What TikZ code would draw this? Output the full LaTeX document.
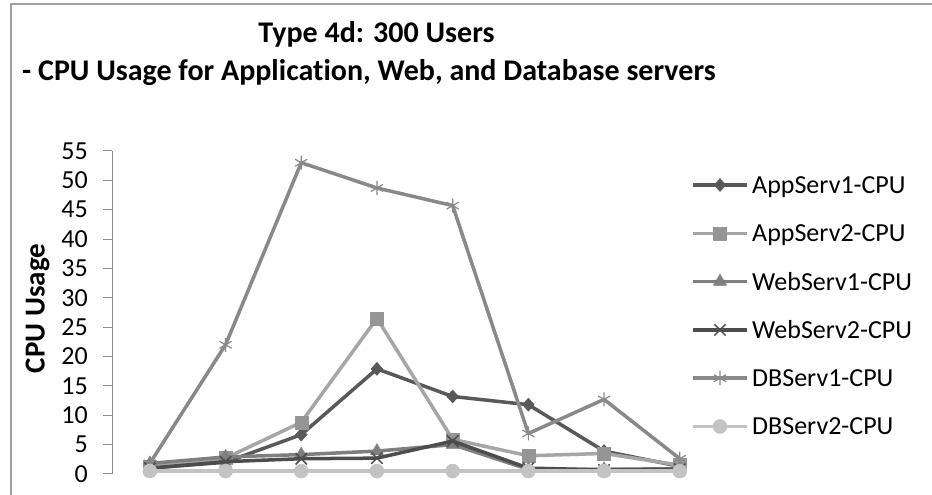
\documentclass[tikz,border=0pt]{standalone}
\usepackage{fontspec}
\setmainfont{Carlito}[Ligatures=NoCommon]
\usetikzlibrary{plotmarks}
\definecolor{appone}{HTML}{595959}
\definecolor{apptwo}{HTML}{A6A6A6}
\definecolor{webone}{HTML}{7F7F7F}
\definecolor{webtwo}{HTML}{4D4D4D}
\definecolor{dbone}{HTML}{898989}
\definecolor{dbtwo}{HTML}{C3C3C3}
\definecolor{axisgray}{HTML}{8C8C8C}
\definecolor{frame}{HTML}{A0A0A0}
\begin{document}
\begin{tikzpicture}[x=1pt,y=1pt,
every node/.style={font=\fontsize{26}{31}\selectfont,inner sep=0pt},
heading/.style={font=\fontsize{30}{36}\selectfont\bfseries},
series/.style={line width=3.5pt,line join=round},
axisline/.style={draw=axisgray,line width=1pt},
app1/.style={series,color=appone,mark=diamond*,mark size=6.5pt,
mark options={solid,xscale=1.2,line width=0.5pt}},
app2/.style={series,color=apptwo,mark=square*,mark size=6.5pt,
mark options={solid,fill=apptwo!90!black,draw=apptwo!90!black,line width=0.5pt}},
web1/.style={series,color=webone,mark=triangle*,mark size=7.5pt,
mark options={solid,line width=0.5pt}},
web2/.style={series,color=webtwo,mark=x,mark size=8pt,
mark options={solid,line width=1.5pt}},
db1/.style={series,color=dbone,mark=asterisk,mark size=7pt,
mark options={solid,line width=1.2pt}},
db2/.style={series,color=dbtwo,mark=*,mark size=7pt,
mark options={solid,line width=0.5pt}}
]
\useasboundingbox (0,0) rectangle (932,495);
\fill[white] (0,0) rectangle (932,495);
\clip (0,0) rectangle (932,495);
\draw[frame,line width=1.2pt] (11,-5) |- (940,491);
\node[heading,anchor=base] (title) at (376.5,452.3) {Type 4d: 300 Users};
\node[heading,anchor=base west] (subtitle) at (22,414)
{- CPU Usage for Application, Web, and Database servers};
\node[heading,font=\fontsize{29}{35}\selectfont\bfseries,rotate=90] (ylabel) at (37.5,186.5) {CPU Usage};
\begin{scope}[shift={(74.15,21)},x=75.7pt,y=5.873pt]
\draw[axisline] (0.5,0) -- (0.5,55);
\foreach \v in {0,5,...,55}{%
\draw[axisline] ([xshift=-9pt]0.5,\v) -- (0.5,\v);
\node[anchor=east] (tick\v) at ([xshift=-24pt]0.5,\v) {\v};
}
\draw[app1] plot coordinates {(1,1.0) (2,2.0) (3,6.7) (4,17.9) (5,13.2) (6,11.8) (7,3.9) (8,1.3)};
\draw[app2] plot coordinates {(1,1.2) (2,2.7) (3,8.8) (4,26.5) (5,5.9) (6,3.1) (7,3.5) (8,1.5)};
\draw[web1] plot coordinates {(1,1.8) (2,2.9) (3,3.3) (4,3.9) (5,5.0) (6,0.8) (7,0.8) (8,0.9)};
\draw[web2] plot coordinates {(1,1.0) (2,2.1) (3,2.6) (4,2.7) (5,5.6) (6,1.0) (7,0.7) (8,0.8)};
\draw[db1] plot coordinates {(1,1.8) (2,22.0) (3,53.0) (4,48.7) (5,45.7) (6,6.9) (7,12.7) (8,2.6)};
\draw[db2] plot coordinates {(1,0.5) (2,0.5) (3,0.5) (4,0.5) (5,0.5) (6,0.5) (7,0.5) (8,0.5)};
\end{scope}
\foreach \s/\lbl [count=\k from 0] in {app1/AppServ1-CPU,app2/AppServ2-CPU,
web1/WebServ1-CPU,web2/WebServ2-CPU,db1/DBServ1-CPU,db2/DBServ2-CPU}{%
\pgfmathsetmacro\ly{310-48.3*\k}
\draw[\s] (693,\ly) -- (747,\ly);
\path[\s] plot coordinates {(720,\ly)};
\node[anchor=base west] (key\k) at (752,\ly-8.5) {\lbl};
}
\end{tikzpicture}
\end{document}
